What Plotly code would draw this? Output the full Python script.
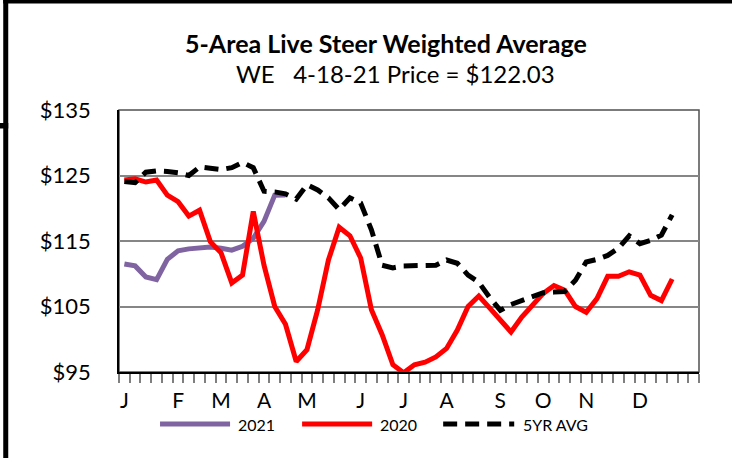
import plotly.graph_objects as go

# ---------------- data ----------------
n_categories = 54
week_names = [f"W{k + 1}" for k in range(n_categories)]
month_labels = ["J", "F", "M", "A", "M", "J", "J", "A", "S", "O", "N", "D"]
month_pos = [0, 5, 9, 13, 17, 22, 26, 30, 35, 39, 43, 48]
y_ticks = [95, 105, 115, 125, 135]
y_tick_text = ["$95", "$105", "$115", "$125", "$135"]

price_2021 = [111.5, 111.2, 109.5, 109.1, 112.2, 113.5, 113.8, 114.0, 114.1,
              113.9, 113.6, 114.2, 115.4, 118.0, 122.0, 122.03]

price_2020 = [124.3, 124.5, 124.0, 124.3, 122.0, 121.0, 118.8, 119.7, 114.9,
              113.2, 108.6, 109.8, 119.5, 111.3, 105.0, 102.3, 96.6, 98.4,
              104.5, 112.1, 117.1, 115.8, 112.4, 104.5, 100.7, 96.1, 94.9,
              96.1, 96.5, 97.3, 98.6, 101.4, 105.0, 106.6, 104.8, 103.0,
              101.1, 103.4, 105.1, 107.0, 108.2, 107.5, 105.0, 104.1, 106.2,
              109.6, 109.6, 110.3, 109.8, 106.7, 105.9, 109.2]

avg_5yr = [124.1, 123.9, 125.5, 125.7, 125.6, 125.4, 125.0, 126.3, 126.1,
           125.9, 126.2, 127.0, 126.2, 122.6, 122.5, 122.2, 121.4, 123.6,
           122.8, 121.6, 119.8, 121.6, 120.8, 116.7, 111.3, 110.9, 111.2,
           111.2, 111.2, 111.3, 112.1, 111.6, 109.8, 108.7, 106.4, 104.4,
           105.3, 105.9, 106.4, 107.1, 107.2, 107.3, 109.0, 111.8, 112.2,
           112.8, 113.9, 115.8, 114.6, 115.1, 115.9, 119.0]

series_names = ["2021", "2020", "5YR AVG"]
series_colors = ["#8064A2", "#FF0000", "#000000"]
dash_5yr = "14px,8px"

tick_text = [""] * n_categories
for pos, lab in zip(month_pos, month_labels):
    tick_text[pos] = lab

# ---------------- layout geometry (pixels) ----------------
FIG_W, FIG_H = 732, 458
L, R, T, B = 119, 698.7, 110, 372
PW, PH = R - L, B - T


def px(x):
    return (x - L) / PW


def py(y):
    return (B - y) / PH


FONT = "Lato, 'Open Sans', sans-serif"

fig = go.Figure()
fig.add_trace(go.Scatter(x=week_names[:len(price_2021)], y=price_2021, mode="lines",
                         name=series_names[0], showlegend=False,
                         line=dict(color=series_colors[0], width=5)))
fig.add_trace(go.Scatter(x=week_names[:len(price_2020)], y=price_2020, mode="lines",
                         name=series_names[1], showlegend=False,
                         line=dict(color=series_colors[1], width=5)))
fig.add_trace(go.Scatter(x=week_names[:len(avg_5yr)], y=avg_5yr, mode="lines",
                         name=series_names[2], showlegend=False,
                         line=dict(color=series_colors[2], width=5, dash=dash_5yr)))

shapes = []
# plot area box (top/right edges grey)
shapes.append(dict(type="rect", xref="paper", yref="paper", x0=0, x1=1, y0=0, y1=1,
                   line=dict(color="#505050", width=1.5), layer="below"))
# outer black frame pieces
shapes.append(dict(type="rect", xref="paper", yref="paper",
                   x0=px(3.3), x1=px(FIG_W + 5), y0=py(3.5), y1=py(-5),
                   fillcolor="black", line=dict(width=0)))
shapes.append(dict(type="rect", xref="paper", yref="paper",
                   x0=px(3.3), x1=px(8.3), y0=py(FIG_H + 5), y1=py(-5),
                   fillcolor="black", line=dict(width=0)))
shapes.append(dict(type="rect", xref="paper", yref="paper",
                   x0=px(-2), x1=px(8.3), y0=py(128.5), y1=py(123),
                   fillcolor="black", line=dict(width=0)))

annotations = []
# legend (manual, to match long sample lines)
legend_line_x = [(160, 230), (302, 372), (443, 514)]
legend_text_x = [236, 378, 521]
legend_y = 424
for i in range(3):
    x0, x1 = legend_line_x[i]
    ln = dict(color=series_colors[i], width=5)
    if i == 2:
        ln["dash"] = dash_5yr
    shapes.append(dict(type="line", xref="paper", yref="paper",
                       x0=px(x0), x1=px(x1), y0=py(legend_y), y1=py(legend_y),
                       line=ln))
    annotations.append(dict(xref="paper", yref="paper", x=px(legend_text_x[i]),
                            y=py(legend_y), xanchor="left", yanchor="middle",
                            text=series_names[i], showarrow=False,
                            font=dict(family=FONT, size=16, color="black")))

# titles
annotations.append(dict(xref="paper", yref="paper", x=px(386), y=py(42.5),
                        xanchor="center", yanchor="middle", showarrow=False,
                        text="<b>5-Area Live Steer Weighted Average</b>",
                        font=dict(family=FONT, size=25, color="black")))
annotations.append(dict(xref="paper", yref="paper", x=px(395), y=py(73.5),
                        xanchor="center", yanchor="middle", showarrow=False,
                        text="WE\u00a0\u00a0\u00a04-18-21 Price = $122.03",
                        font=dict(family=FONT, size=24, color="black")))

fig.update_layout(
    width=FIG_W, height=FIG_H,
    margin=dict(l=L, r=FIG_W - R, t=T, b=FIG_H - B, pad=0),
    paper_bgcolor="white", plot_bgcolor="white",
    showlegend=False,
    shapes=shapes, annotations=annotations,
    xaxis=dict(type="category", categoryorder="array", categoryarray=week_names,
               range=[-0.5, n_categories - 0.5], tickmode="array",
               tickvals=week_names, ticktext=tick_text, tickson="boundaries",
               tickangle=0,
               ticks="outside", ticklen=9, tickwidth=1.5, tickcolor="#7f7f7f",
               ticklabelstandoff=9,
               showgrid=False, zeroline=False,
               showline=True, linecolor="black", linewidth=1.5,
               tickfont=dict(family=FONT, size=21, color="black")),
    yaxis=dict(range=[95, 135], tickmode="array", tickvals=y_ticks,
               ticktext=y_tick_text, ticks="", ticklabelstandoff=22,
               showgrid=True, gridcolor="#868686", gridwidth=2,
               zeroline=False, showline=True, linecolor="black", linewidth=1.5,
               tickfont=dict(family=FONT, size=22, color="black")),
)

fig.write_html("out.html", config={"displayModeBar": False},
               post_script="document.body.style.margin='0';")
